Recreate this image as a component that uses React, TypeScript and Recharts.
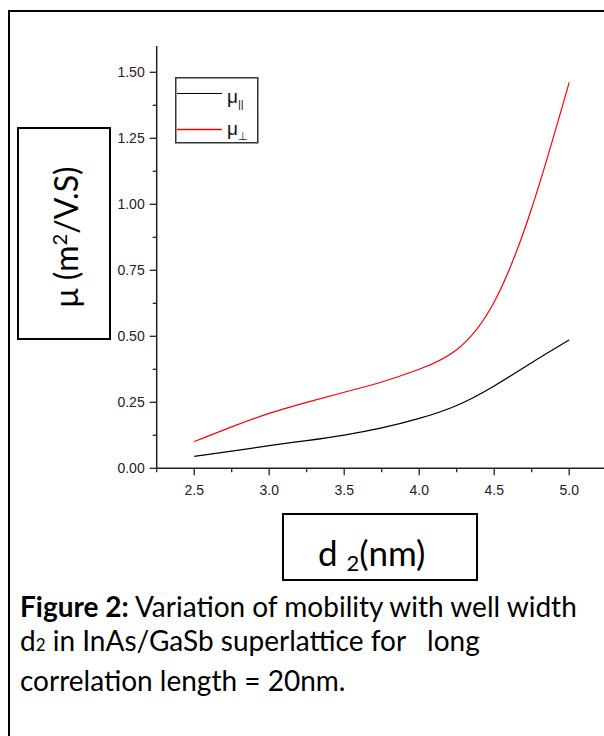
import React from 'react';
import { LineChart, Line, XAxis, YAxis, Legend } from 'recharts';

// well width d2 (nm) and the two mobilities (m^2/V.S)
const d2Values = [2.5, 2.75, 3.0, 3.25, 3.5, 3.75, 4.0, 4.25, 4.5, 4.75, 5.0];
const muParallel = [0.045, 0.065, 0.086, 0.105, 0.126, 0.153, 0.189, 0.238, 0.312, 0.4, 0.486];
const muPerp = [0.101, 0.157, 0.208, 0.25, 0.288, 0.327, 0.375, 0.449, 0.63, 0.985, 1.462];

const xTicks = [2.25, 2.5, 2.75, 3.0, 3.25, 3.5, 3.75, 4.0, 4.25, 4.5, 4.75, 5.0];
const yTicks = [0, 0.125, 0.25, 0.375, 0.5, 0.625, 0.75, 0.875, 1.0, 1.125, 1.25, 1.375, 1.5];

const data = d2Values.map((d, i) => ({ d2: d, par: muParallel[i], perp: muPerp[i] }));

const tickFont = '"Liberation Sans", Arial, sans-serif';
const textFont = 'Lato, "Noto Sans", sans-serif';

const XTick = (props: any) => {
  const { x, y, payload } = props;
  const v = payload.value;
  const major = Math.abs(v * 2 - Math.round(v * 2)) < 1e-6;
  return (
    <g>
      <line x1={x} x2={x} y1={y} y2={y + (major ? 7 : 4)} stroke="#222" strokeWidth={1.3} />
      {major && (
        <text x={x} y={y + 26.5} textAnchor="middle" fontSize={14} fontFamily={tickFont} fill="#222">
          {v.toFixed(1)}
        </text>
      )}
    </g>
  );
};

const YTick = (props: any) => {
  const { x, y, payload } = props;
  const v = payload.value;
  const major = Math.abs(v * 4 - Math.round(v * 4)) < 1e-6;
  return (
    <g>
      <line x1={x - (major ? 7 : 4)} x2={x} y1={y} y2={y} stroke="#222" strokeWidth={1.3} />
      {major && (
        <text x={x - 12} y={y + 5} textAnchor="end" fontSize={14} fontFamily={tickFont} fill="#222">
          {v.toFixed(2)}
        </text>
      )}
    </g>
  );
};

const renderLegend = () => (
  <svg width={84} height={67} style={{ display: 'block' }}>
    <rect x={0.75} y={0.75} width={82} height={65} fill="white" stroke="#333" strokeWidth={1.5} />
    <line x1={2} x2={47} y1={16.5} y2={16.5} stroke="#000" strokeWidth={1.2} />
    <line x1={2} x2={47} y1={52.5} y2={52.5} stroke="#ff0000" strokeWidth={1.3} />
    <text x={52} y={26} fontSize={19} fontFamily={tickFont} fill="#111">
      μ<tspan fontSize={11} dy={5}>||</tspan>
    </text>
    <text x={52} y={58} fontSize={19} fontFamily={tickFont} fill="#111">
      μ<tspan fontSize={11} dy={5}>⊥</tspan>
    </text>
  </svg>
);

const boxStyle: React.CSSProperties = {
  position: 'absolute',
  border: '2px solid #000',
  boxSizing: 'border-box',
  background: 'white',
};

export default function App() {
  return (
    <div style={{ position: 'absolute', left: 0, top: 0, width: 604, height: 736, overflow: 'hidden', background: 'white' }}>
      <div style={{ position: 'absolute', left: 8, top: 10, width: 700, height: 800, borderLeft: '2px solid #000', borderTop: '2px solid #000' }} />
      <div style={{ position: 'absolute', left: 0, top: 0 }}>
        <LineChart width={620} height={500} data={data} margin={{ top: 45.9, right: 13.3, left: 0, bottom: 0 }}>
          <XAxis
            dataKey="d2"
            type="number"
            domain={[2.25, 5.25]}
            ticks={xTicks}
            interval={0}
            height={31.7}
            tickSize={0}
            tickMargin={0}
            tickLine={false}
            tick={XTick}
            axisLine={{ stroke: '#222', strokeWidth: 1.5 }}
            allowDataOverflow
          />
          <YAxis
            type="number"
            domain={[0, 1.6]}
            ticks={yTicks}
            interval={0}
            width={156.7}
            tickSize={0}
            tickMargin={0}
            tickLine={false}
            tick={YTick}
            axisLine={{ stroke: '#222', strokeWidth: 1.5 }}
            allowDataOverflow
          />
          <Legend
            layout="vertical"
            align="center"
            verticalAlign="middle"
            content={renderLegend}
            wrapperStyle={{ left: 174.5, top: 77, width: 84, height: 67 }}
          />
          <Line type="natural" dataKey="par" name="μ||" stroke="#000" strokeWidth={1.2} dot={false} isAnimationActive={false} />
          <Line type="natural" dataKey="perp" name="μ⊥" stroke="#ff0000" strokeWidth={1.2} dot={false} isAnimationActive={false} />
        </LineChart>
      </div>

      <div style={{ ...boxStyle, left: 17, top: 127, width: 94, height: 213 }} />
      <div
        style={{
          position: 'absolute',
          left: 66,
          top: 237,
          transform: 'translate(-50%, -50%) rotate(-90deg)',
          whiteSpace: 'nowrap',
          fontFamily: textFont,
          fontSize: 32,
          lineHeight: '36px',
          color: '#000',
        }}
      >
        μ (m<sup style={{ fontSize: 20, verticalAlign: 11, lineHeight: 0 }}>2</sup>/V.S)
      </div>

      <div style={{ ...boxStyle, left: 282, top: 513, width: 196, height: 68 }} />
      <div
        style={{
          position: 'absolute',
          left: 318,
          top: 534,
          whiteSpace: 'pre',
          fontFamily: textFont,
          fontSize: 35,
          lineHeight: '36px',
          color: '#000',
        }}
      >
        d <sub style={{ fontSize: 22, verticalAlign: -5, lineHeight: 0 }}>2</sub>(nm)
      </div>

      <div
        style={{
          position: 'absolute',
          left: 20,
          top: 589,
          width: 600,
          fontFamily: textFont,
          fontSize: 28,
          lineHeight: '34.3px',
          color: '#000',
          whiteSpace: 'pre',
        }}
      >
        <b>Figure 2:</b> Variation of mobility with well width{'\n'}d<span style={{ fontSize: 17 }}>2</span> in InAs/GaSb superlattice for   long{'\n'}correlation length = 20nm.
      </div>
    </div>
  );
}
